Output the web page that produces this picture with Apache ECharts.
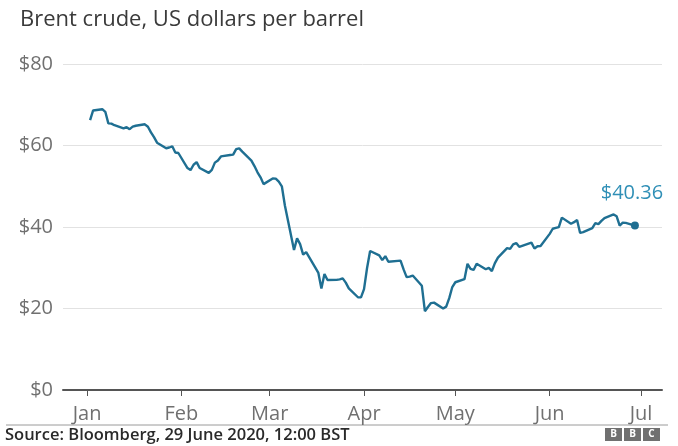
<!DOCTYPE html>
<html>
<head>
<meta charset="utf-8">
<script src="https://cdn.jsdelivr.net/npm/echarts@6/dist/echarts.min.js"></script>
<style>
  html, body { margin: 0; padding: 0; background: #fff; }
  #chart { width: 678px; height: 446px; }
</style>
</head>
<body>
<div id="chart"></div>
<script>
// Brent crude daily closing price, 2020 (US dollars per barrel)
const tradeDates = [
  '2020-01-02','2020-01-03','2020-01-06','2020-01-07','2020-01-08','2020-01-09','2020-01-10',
  '2020-01-13','2020-01-14','2020-01-15','2020-01-16','2020-01-17','2020-01-20','2020-01-21',
  '2020-01-22','2020-01-23','2020-01-24','2020-01-27','2020-01-28','2020-01-29','2020-01-30',
  '2020-01-31','2020-02-03','2020-02-04','2020-02-05','2020-02-06','2020-02-07','2020-02-10',
  '2020-02-11','2020-02-12','2020-02-13','2020-02-14','2020-02-17','2020-02-18','2020-02-19',
  '2020-02-20','2020-02-21','2020-02-24','2020-02-25','2020-02-26','2020-02-27','2020-02-28',
  '2020-03-02','2020-03-03','2020-03-04','2020-03-05','2020-03-06','2020-03-09','2020-03-10',
  '2020-03-11','2020-03-12','2020-03-13','2020-03-16','2020-03-17','2020-03-18','2020-03-19',
  '2020-03-20','2020-03-23','2020-03-24','2020-03-25','2020-03-26','2020-03-27','2020-03-30',
  '2020-03-31','2020-04-01','2020-04-02','2020-04-03','2020-04-06','2020-04-07','2020-04-08',
  '2020-04-09','2020-04-13','2020-04-14','2020-04-15','2020-04-16','2020-04-17','2020-04-20',
  '2020-04-21','2020-04-22','2020-04-23','2020-04-24','2020-04-27','2020-04-28','2020-04-29',
  '2020-04-30','2020-05-01','2020-05-04','2020-05-05','2020-05-06','2020-05-07','2020-05-08',
  '2020-05-11','2020-05-12','2020-05-13','2020-05-14','2020-05-15','2020-05-18','2020-05-19',
  '2020-05-20','2020-05-21','2020-05-22','2020-05-26','2020-05-27','2020-05-28','2020-05-29',
  '2020-06-01','2020-06-02','2020-06-03','2020-06-04','2020-06-05','2020-06-08','2020-06-09',
  '2020-06-10','2020-06-11','2020-06-12','2020-06-15','2020-06-16','2020-06-17','2020-06-18',
  '2020-06-19','2020-06-22','2020-06-23','2020-06-24','2020-06-25','2020-06-26','2020-06-29'
];
const brentPrice = [
  66.25, 68.60, 68.91, 68.27, 65.44, 65.37, 64.98,
  64.20, 64.49, 64.00, 64.62, 64.85, 65.20, 64.59,
  63.21, 62.04, 60.69, 59.32, 59.51, 59.81, 58.29,
  58.16, 54.45, 53.96, 55.28, 55.93, 54.47, 53.27,
  54.01, 55.79, 56.34, 57.32, 57.67, 57.75, 59.12,
  59.31, 58.50, 56.30, 54.95, 53.43, 52.18, 50.52,
  51.90, 51.86, 51.13, 49.99, 45.27, 34.36, 37.22,
  35.79, 33.22, 33.85, 30.05, 28.73, 24.88, 28.47,
  26.98, 27.03, 27.15, 27.39, 26.34, 24.93, 22.76,
  22.74, 24.74, 29.94, 34.11, 33.05, 31.87, 32.84,
  31.48, 31.74, 29.60, 27.69, 27.82, 28.08, 25.57,
  19.33, 20.37, 21.33, 21.44, 19.99, 20.46, 22.54,
  25.27, 26.44, 27.20, 30.97, 29.72, 29.46, 30.97,
  29.63, 29.98, 29.19, 31.13, 32.50, 34.81, 34.65,
  35.75, 36.06, 35.13, 36.17, 34.74, 35.29, 35.33,
  38.32, 39.57, 39.79, 39.99, 42.30, 40.80, 41.18,
  41.73, 38.55, 38.73, 39.72, 40.96, 40.71, 41.51,
  42.19, 43.08, 42.63, 40.31, 41.05, 41.02, 40.36
];
const monthStarts = ['2020-01-01','2020-02-01','2020-03-01','2020-04-01','2020-05-01','2020-06-01','2020-07-01'];
const monthLabels = ['Jan','Feb','Mar','Apr','May','Jun','Jul'];
const yTicks = [0, 20, 40, 60, 80];

// x positions are measured in days since 1 January 2020
const DAY = 86400000;
const origin = Date.parse('2020-01-01T00:00:00Z');
const dayOf = d => Math.round((Date.parse(d + 'T00:00:00Z') - origin) / DAY);
const monthDays = monthStarts.map(dayOf);

const seriesData = tradeDates.map((d, i) => {
  const item = { value: [dayOf(d), brentPrice[i]] };
  if (i === tradeDates.length - 1) {
    item.symbol = 'circle';
    item.symbolSize = 8;
    item.label = {
      show: true,
      position: 'top',
      distance: 18,
      offset: [-3, 0],
      formatter: p => '$' + p.value[1].toFixed(2),
      color: '#2f8fb6',
      fontSize: 20,
      fontFamily: 'Open Sans'
    };
  }
  return item;
});

const chart = echarts.init(document.getElementById('chart'), null, { renderer: 'canvas' });
chart.setOption({
  animation: false,
  backgroundColor: '#ffffff',
  textStyle: { fontFamily: 'Open Sans' },
  title: {
    text: 'Brent crude, US dollars per barrel',
    left: 15,
    top: 4,
    textStyle: { fontFamily: 'Open Sans', fontSize: 22, fontWeight: 'normal', color: '#3a3a3a' }
  },
  grid: { left: 63, right: 16, top: 64, bottom: 56, containLabel: false },
  xAxis: {
    type: 'value',
    min: monthDays[0] - 7.9,
    max: monthDays[monthDays.length - 1] + 6.9,
    axisLine: { show: true, onZero: false, lineStyle: { color: '#555', width: 2 } },
    axisTick: {
      show: true,
      customValues: monthDays,
      length: 6,
      lineStyle: { color: '#555', width: 1 }
    },
    axisLabel: {
      customValues: monthDays,
      formatter: v => monthLabels[monthDays.indexOf(v)] || '',
      color: '#707070',
      fontSize: 20,
      margin: 14,
      fontFamily: 'Open Sans'
    },
    splitLine: { show: false }
  },
  yAxis: {
    type: 'value',
    min: yTicks[0],
    max: yTicks[yTicks.length - 1],
    interval: 20,
    axisLine: { show: false },
    axisTick: { show: false },
    axisLabel: {
      formatter: v => '$' + v,
      color: '#707070',
      fontSize: 20,
      margin: 10,
      fontFamily: 'Open Sans'
    },
    splitLine: { show: true, lineStyle: { color: '#e2e2e2', width: 1 } }
  },
  series: [{
    type: 'line',
    data: seriesData,
    symbol: 'none',
    lineStyle: { color: '#1f6f92', width: 2.4 },
    itemStyle: { color: '#1f6f92' },
    z: 5
  }],
  graphic: [
    {
      type: 'line',
      shape: { x1: 6, y1: 425, x2: 668, y2: 425 },
      style: { stroke: '#9a9a9a', lineWidth: 1 }
    },
    {
      type: 'text',
      left: 5,
      top: 427,
      style: {
        text: 'Source: Bloomberg, 29 June 2020, 12:00 BST',
        font: '600 16.5px "Open Sans"',
        fill: '#2a2a2a'
      }
    },
    {
      type: 'group',
      left: 605,
      top: 428,
      children: ['B', 'B', 'C'].flatMap((ch, i) => [
        { type: 'rect', shape: { x: i * 19, y: 0, width: 17, height: 13 }, style: { fill: '#707070' } },
        {
          type: 'text',
          x: i * 19 + 8.5, y: 6.5,
          style: { text: ch, font: 'bold 10px "Open Sans"', fill: '#ffffff', align: 'center', verticalAlign: 'middle' }
        }
      ])
    }
  ]
});
</script>
</body>
</html>
